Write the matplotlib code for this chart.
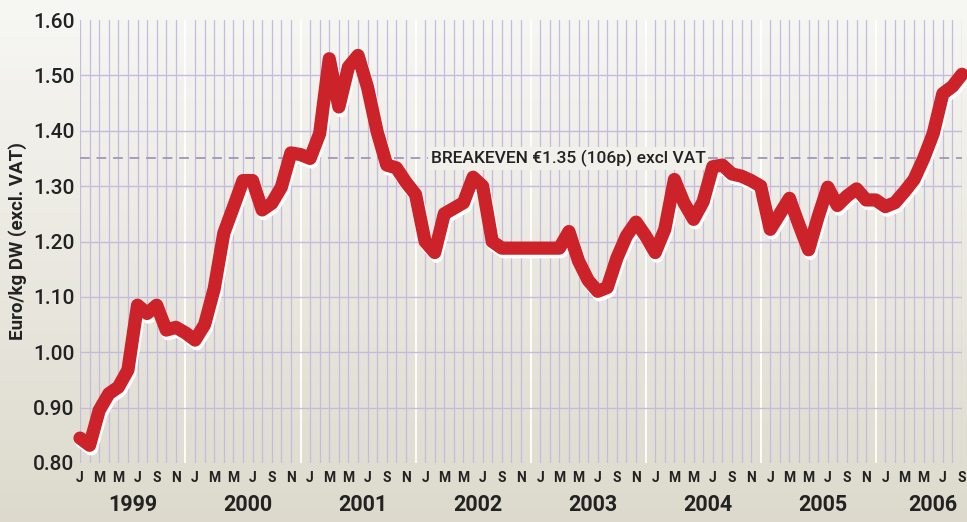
import numpy as np
import matplotlib
matplotlib.use("Agg")
import matplotlib.pyplot as plt
import matplotlib.patheffects as pe
from matplotlib.colors import LinearSegmentedColormap

# ---- data: monthly price, Jan 1999 .. Sep 2006 ----
years = ["1999", "2000", "2001", "2002", "2003", "2004", "2005", "2006"]
month_letters = ["J", "M", "M", "J", "S", "N"]
prices = [
    0.845, 0.832, 0.895, 0.925, 0.937, 0.968, 1.085, 1.070, 1.085, 1.040, 1.045, 1.035,   # 1999
    1.022, 1.050, 1.115, 1.215, 1.262, 1.310, 1.310, 1.257, 1.269, 1.298, 1.360, 1.357,   # 2000
    1.350, 1.395, 1.530, 1.443, 1.515, 1.536, 1.478, 1.398, 1.338, 1.333, 1.307, 1.285,   # 2001
    1.200, 1.180, 1.250, 1.260, 1.270, 1.316, 1.300, 1.200, 1.188, 1.188, 1.188, 1.188,   # 2002
    1.188, 1.188, 1.188, 1.218, 1.165, 1.130, 1.110, 1.117, 1.170, 1.210, 1.235, 1.210,   # 2003
    1.180, 1.222, 1.312, 1.270, 1.240, 1.272, 1.335, 1.338, 1.322, 1.318, 1.310, 1.300,   # 2004
    1.222, 1.250, 1.278, 1.230, 1.185, 1.245, 1.298, 1.265, 1.282, 1.295, 1.275, 1.275,   # 2005
    1.263, 1.270, 1.290, 1.312, 1.350, 1.395, 1.467, 1.480, 1.502,                        # 2006
]
breakeven = 1.35
breakeven_label = "BREAKEVEN €1.35 (106p) excl VAT"
yticks = [0.80, 0.90, 1.00, 1.10, 1.20, 1.30, 1.40, 1.50, 1.60]
ylabel = "Euro/kg DW (excl. VAT)"

n = len(prices)
months = np.arange(n)

W, H = 967, 522
fig = plt.figure(figsize=(W / 100, H / 100), dpi=100)

# background gradient
bg = fig.add_axes([0, 0, 1, 1], zorder=0)
cmap = LinearSegmentedColormap.from_list("bg", ["#f7f7f4", "#dddacd"])
grad = np.linspace(0, 1, 256).reshape(-1, 1)
bg.imshow(grad, aspect="auto", cmap=cmap, extent=[0, 1, 0, 1], origin="upper")
bg.set_axis_off()

left, right = 80 / W, 962 / W
bottom, top = 1 - 463 / H, 1 - 20 / H
ax = fig.add_axes([left, bottom, right - left, top - bottom], zorder=1)
ax.patch.set_alpha(0)
ax.set_xlim(0, n - 1)
ax.set_ylim(0.80, 1.60)
for s in ax.spines.values():
    s.set_visible(False)

grid_col = "#c4bbdf"
# vertical month lines
for m in months:
    col = "white" if (m % 12 == 11) else grid_col
    lw = 1.3 if col == "white" else 0.9
    ax.axvline(m, color=col, lw=lw, zorder=1)
# horizontal lines
for v in yticks[1:-1]:
    ax.axhline(v, color=grid_col, lw=1.0, zorder=1)

fam = ["Roboto", "DejaVu Sans"]

# breakeven dashed line
ax.axhline(breakeven, color="#a59db8", lw=1.4, ls=(0, (5, 3.5)), zorder=2)
ax.text(36.6, breakeven, breakeven_label, fontsize=12.5, family=fam,
        fontweight="medium", color="#222222", va="center", ha="left", zorder=3,
        bbox=dict(boxstyle="square,pad=0.15", fc="#f1f0eb", ec="none"))

# price line with white drop shadow
ax.plot(months, prices, color="#cc2229", lw=9.5, solid_joinstyle="round",
        solid_capstyle="round", zorder=5, clip_on=False,
        path_effects=[pe.SimpleLineShadow(offset=(1.2, -2.6), shadow_color="white", alpha=1.0),
                      pe.Normal()])

# y tick labels
ax.set_yticks(yticks)
ax.set_yticklabels([f"{v:.2f}" for v in yticks], family=fam, fontsize=15,
                   fontweight="medium", color="#222222")
ax.tick_params(axis="y", length=0, pad=4)
ax.set_xticks([])

# month letters and years
for m in range(0, n, 2):
    ax.text(m, 0.80 - 15 / 554, month_letters[(m % 12) // 2], ha="center", va="center",
            family=fam, fontsize=10, fontweight="bold", color="#222222", clip_on=False)
for k, y in enumerate(years):
    ax.text(12 * k + 5.5 if k < len(years) - 1 else 12 * k + 5.0, 0.80 - 42 / 554,
            y, ha="center", va="center", family=fam, fontsize=15.5, fontweight="bold",
            color="#222222", clip_on=False)

fig.text(18 / W, 1 - 241 / H, ylabel, rotation=90, ha="center", va="center",
         family=fam, fontsize=13.5, fontweight="bold", color="#222222")

fig.savefig("out.png", dpi=100)
